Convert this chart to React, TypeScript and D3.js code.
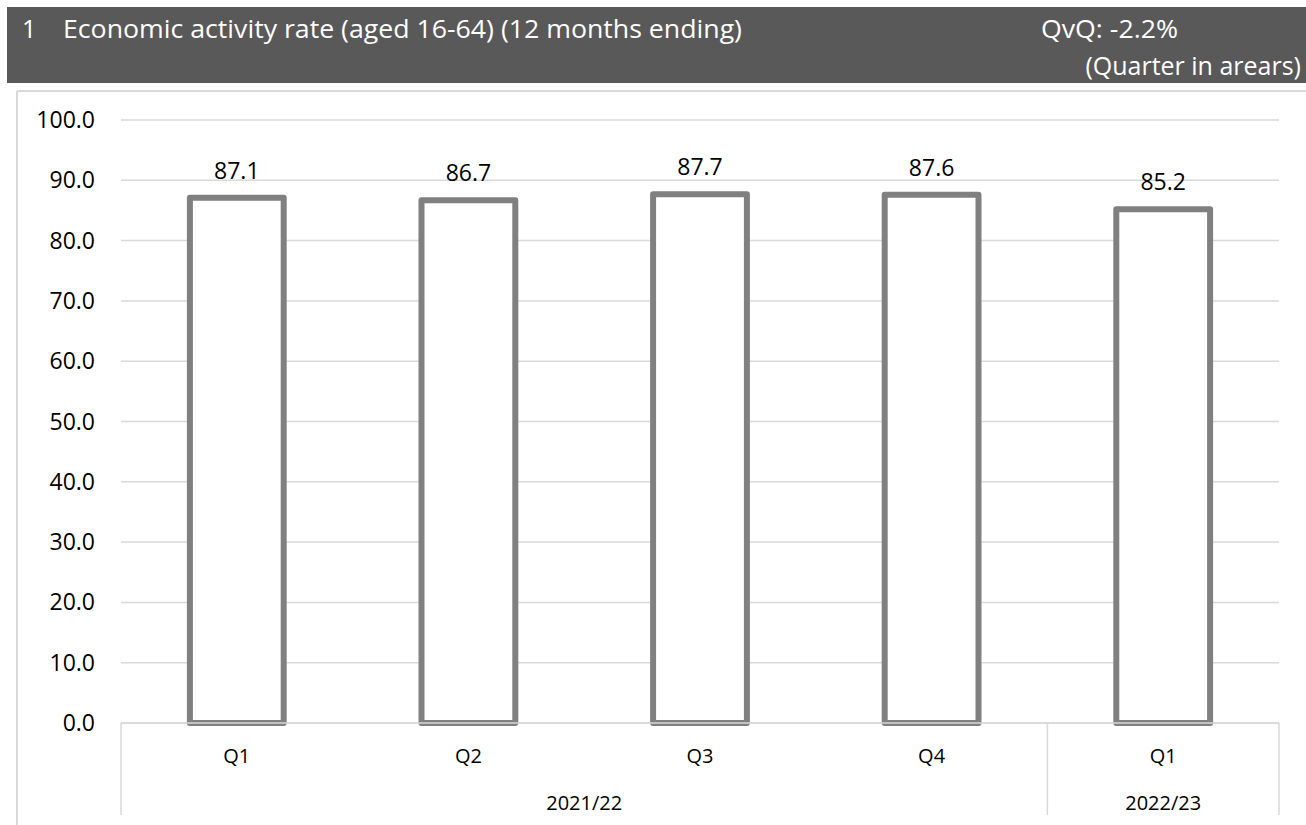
import React from "react";
import * as d3 from "d3";

const quarters = ["Q1", "Q2", "Q3", "Q4", "Q1"];
const years = ["2021/22", "2021/22", "2021/22", "2021/22", "2022/23"];
const yearGroups = ["2021/22", "2022/23"];
const values = [87.1, 86.7, 87.7, 87.6, 85.2];
const yTicks = [0, 10, 20, 30, 40, 50, 60, 70, 80, 90, 100];
const titleNumber = "1";
const titleText = "Economic activity rate (aged 16-64) (12 months ending)";
const changeText = "QvQ: -2.2%";
const noteText = "(Quarter in arears)";

const W = 1306;
const H = 825;
const FONT = "'Open Sans', 'DejaVu Sans', sans-serif";

export default function App() {
  const plotLeft = 121;
  const plotRight = 1279;
  const plotTop = 120;
  const plotBottom = 723;

  const idx = quarters.map((_, i) => String(i));
  const x = d3.scaleBand<string>().domain(idx).range([plotLeft, plotRight]).paddingInner(0).paddingOuter(0);
  const y = d3.scaleLinear().domain([0, 100]).range([plotBottom, plotTop]);
  const bw = x.bandwidth() * 0.405;

  const groups = yearGroups.map((g) => {
    const ids = years.map((yv, i) => (yv === g ? i : -1)).filter((i) => i >= 0);
    const x0 = x(String(ids[0]))!;
    const x1 = x(String(ids[ids.length - 1]))! + x.bandwidth();
    return { g, x0, x1 };
  });
  const dividers = [plotLeft, ...groups.map((g) => g.x1)];

  return (
    <svg
      width={W}
      height={H}
      style={{ position: "fixed", left: 0, top: 0, background: "#fff" }}
      fontFamily={FONT}
    >
      {/* header */}
      <rect x={7} y={7} width={W - 7} height={76} fill="#595959" />
      <text x={22} y={38} fill="#ffffff" fontSize={25}>{titleNumber}</text>
      <text x={63} y={38} fill="#ffffff" fontSize={25} textLength={679} lengthAdjust="spacingAndGlyphs">{titleText}</text>
      <text x={1041} y={38} fill="#ffffff" fontSize={25} textLength={137} lengthAdjust="spacingAndGlyphs">{changeText}</text>
      <text x={1301} y={75} fill="#ffffff" fontSize={25} textAnchor="end">{noteText}</text>

      {/* chart area border */}
      <line x1={17} y1={91} x2={W} y2={91} stroke="#d9d9d9" strokeWidth={2} />
      <line x1={17} y1={91} x2={17} y2={H} stroke="#d9d9d9" strokeWidth={2} />

      {/* gridlines */}
      {yTicks.map((t) => (
        <g key={t}>
          <line x1={plotLeft} x2={plotRight} y1={y(t)} y2={y(t)} stroke="#d9d9d9" strokeWidth={1.5} />
          <text x={95} y={y(t)} dy="0.35em" textAnchor="end" fontSize={23} fill="#000">
            {t.toFixed(1)}
          </text>
        </g>
      ))}

      {/* bars */}
      {values.map((v, i) => {
        const cx = x(String(i))! + x.bandwidth() / 2;
        return (
          <g key={i}>
            <rect
              x={cx - bw / 2}
              y={y(v)}
              width={bw}
              height={y(0) - y(v)}
              fill="#ffffff"
              stroke="#808080"
              strokeWidth={6}
              strokeLinejoin="round"
            />
            <text x={cx} y={y(v) - 19} textAnchor="middle" fontSize={23} fill="#000">
              {v.toFixed(1)}
            </text>
            <text x={cx} y={763} textAnchor="middle" fontSize={20} fill="#000">
              {quarters[i]}
            </text>
          </g>
        );
      })}

      {/* category axis */}
      <line x1={plotLeft} x2={plotRight} y1={plotBottom} y2={plotBottom} stroke="#d9d9d9" strokeWidth={1.5} />
      {dividers.map((dx, i) => (
        <line key={i} x1={dx} x2={dx} y1={plotBottom} y2={815} stroke="#d9d9d9" strokeWidth={1.5} />
      ))}
      {groups.map((g) => (
        <text key={g.g} x={(g.x0 + g.x1) / 2} y={810} textAnchor="middle" fontSize={20} fill="#000">
          {g.g}
        </text>
      ))}
    </svg>
  );
}
